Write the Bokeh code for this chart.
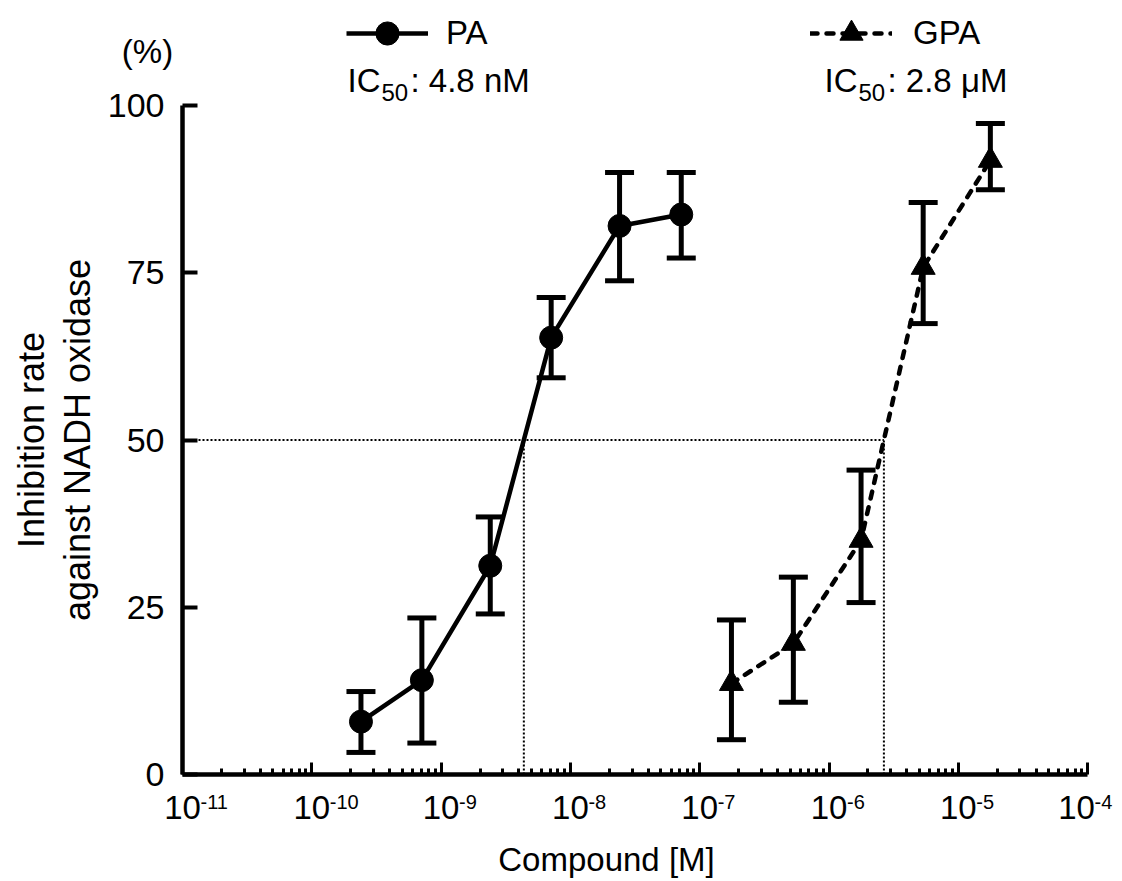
import numpy as np
from bokeh.plotting import figure
from bokeh.models import (Range1d, FixedTicker, Label, Whisker, TeeHead,
                          ColumnDataSource, Legend, LegendItem, CustomJSTickFormatter)
from bokeh.embed import file_html
from bokeh.resources import INLINE

FONT = "Liberation Sans"

# ---------------- data ----------------
pa_conc = [2.4e-10, 7.1e-10, 2.4e-9, 7.1e-9, 2.4e-8, 7.2e-8]
pa_mean = [7.9, 14.1, 31.2, 65.3, 82.0, 83.7]
pa_lower = [3.3, 4.7, 24.0, 59.3, 73.8, 77.2]
pa_upper = [12.4, 23.4, 38.5, 71.3, 90.0, 90.0]

gpa_conc = [1.76e-7, 5.3e-7, 1.77e-6, 5.35e-6, 1.77e-5]
gpa_mean = [13.6, 19.6, 35.0, 75.8, 91.8]
gpa_lower = [5.2, 10.8, 25.7, 67.4, 87.4]
gpa_upper = [23.1, 29.5, 45.5, 85.5, 97.3]

series_names = ["PA", "GPA"]
ic50_values = ["4.8 nM", "2.8 \u03bcM"]
y_ticks = [0, 25, 50, 75, 100]
x_decades = [-11, -10, -9, -8, -7, -6, -5, -4]
half_level = 50

# crossing of the connecting lines with the 50 % level (log interpolation)
def crossing(conc, mean):
    return 10.0 ** np.interp(half_level, mean, np.log10(conc))

guide_pa = crossing(pa_conc, pa_mean)
guide_gpa = crossing(gpa_conc, gpa_mean)

XMIN, XMAX = 10.0 ** x_decades[0], 10.0 ** x_decades[-1]

# ---------------- layout (pixels) ----------------
W, H = 1120, 879
AX_LEFT_PX = 182.0      # where 1e-11 sits
DECADE_PX = 129.3
AX_BOTTOM_PX = 774.0    # where 0 % sits
AX_TOP_PX = 105.0       # where 100 % sits
ypp = 100.0 / (AX_BOTTOM_PX - AX_TOP_PX)

x_start = 10.0 ** (x_decades[0] - AX_LEFT_PX / DECADE_PX)
x_end = 10.0 ** (x_decades[0] + (W - AX_LEFT_PX) / DECADE_PX)
y_start = -(H - AX_BOTTOM_PX) * ypp
y_end = 100 + AX_TOP_PX * ypp

p = figure(x_axis_type="log", x_range=Range1d(x_start, x_end), y_range=Range1d(y_start, y_end),
           width=W, height=H, min_border=0,
           output_backend="svg", toolbar_location=None)
p.grid.visible = False
p.outline_line_color = None
p.background_fill_color = "white"
p.border_fill_color = "white"

# ---------------- axes ----------------
p.xaxis.ticker = FixedTicker(ticks=[10.0 ** d for d in x_decades],
                             minor_ticks=[k * 10.0 ** d for d in x_decades[:-1] for k in range(2, 10)])
p.yaxis.ticker = FixedTicker(ticks=y_ticks)
p.xaxis.fixed_location = 0
p.xaxis.bounds = (XMIN, XMAX)
p.yaxis.fixed_location = XMIN
p.yaxis.bounds = (0, 100)
for ax in (p.xaxis[0], p.yaxis[0]):
    ax.axis_line_width = 4.5
    ax.axis_line_color = "black"
    ax.major_tick_line_color = "black"
    ax.minor_tick_line_color = "black"

p.xaxis.major_tick_in = 12
p.xaxis.major_tick_out = 0
p.xaxis.minor_tick_in = 6
p.xaxis.minor_tick_out = 0
p.xaxis.major_tick_line_width = 3
p.xaxis.minor_tick_line_width = 3
p.xaxis.formatter = CustomJSTickFormatter(code="return ''")

p.yaxis.major_tick_in = 15
p.yaxis.major_tick_out = 0
p.yaxis.minor_tick_line_color = None
p.yaxis.major_tick_line_width = 4
p.yaxis.major_label_text_font = FONT
p.yaxis.major_label_text_font_size = "34px"
p.yaxis.major_label_text_color = "black"
p.yaxis.major_label_standoff = 18


def label(x, y, text, dx=0, dy=0, size="33px", align="left", angle=0.0):
    p.add_layout(Label(x=x, y=y, x_offset=dx, y_offset=dy, text=text, angle=angle,
                       text_align=align, text_baseline="middle", text_font=FONT,
                       text_font_size=size, text_color="black"))


# x tick labels 10^n (the last one is pulled in so that it stays on the page)
for i, d in enumerate(x_decades):
    shift = -11 if i == len(x_decades) - 1 else 0
    label(10.0 ** d, 0, "10", dx=shift, dy=-33, align="center")
    label(10.0 ** d, 0, str(d), dx=18 + shift, dy=-27, size="20px")

# axis titles
label(XMIN, 0, "Compound [M]", dx=424, dy=-85, align="center")
label(XMIN, 50, "Inhibition rate", dx=-151, size="36px", align="center", angle=np.pi / 2)
label(XMIN, 50, "against NADH oxidase", dx=-105, size="36px", align="center", angle=np.pi / 2)
label(XMIN, 100, "(%)", dx=-35, dy=54, align="center")

# ---------------- guides ----------------
p.line([XMIN, guide_gpa], [half_level, half_level], line_color="black", line_width=2,
       line_dash="2 2")
p.segment(x0=[guide_pa, guide_gpa], y0=[0, 0], x1=[guide_pa, guide_gpa],
          y1=[half_level, half_level], line_color="black", line_width=2, line_dash="2 2")

# ---------------- error bars ----------------
for conc, lo, up in ((pa_conc, pa_lower, pa_upper), (gpa_conc, gpa_lower, gpa_upper)):
    src = ColumnDataSource(dict(x=conc, lower=lo, upper=up))
    p.add_layout(Whisker(source=src, base="x", lower="lower", upper="upper",
                         dimension="height", line_width=5, line_color="black",
                         upper_head=TeeHead(size=29, line_width=5, line_color="black"),
                         lower_head=TeeHead(size=29, line_width=5, line_color="black")))

# ---------------- series ----------------
pa_line = p.line(pa_conc, pa_mean, line_color="black", line_width=4.5)
pa_pts = p.scatter(pa_conc, pa_mean, marker="circle", size=23, color="black")
gpa_line = p.line(gpa_conc, gpa_mean, line_color="black", line_width=4.5,
                  line_dash="7 9", line_cap="round")
gpa_pts = p.scatter(gpa_conc, gpa_mean, marker="triangle", size=24, color="black")

# ---------------- legends ----------------
def make_legend(name, rends, loc, standoff):
    return Legend(items=[LegendItem(label=name, renderers=rends)], location=loc,
                  glyph_width=82, glyph_height=58, label_height=58, label_standoff=standoff,
                  padding=0, margin=0, border_line_color=None, background_fill_alpha=0,
                  label_text_font=FONT, label_text_font_size="33px",
                  label_text_color="black")

p.add_layout(make_legend(series_names[0], [pa_line, pa_pts], (346, H - 62), 18))
p.add_layout(make_legend(series_names[1], [gpa_line, gpa_pts], (810, H - 62), 21))

# IC50 texts: "IC" + subscript "50" + ": value"
for x_ic, val in ((165, ic50_values[0]), (642, ic50_values[1])):
    label(XMIN, 100, "IC", dx=x_ic, dy=25)
    label(XMIN, 100, "50", dx=x_ic + 34, dy=13.5, size="24px")
    label(XMIN, 100, ": " + val, dx=x_ic + 63, dy=25)

open("out.html", "w").write(file_html(p, INLINE))
